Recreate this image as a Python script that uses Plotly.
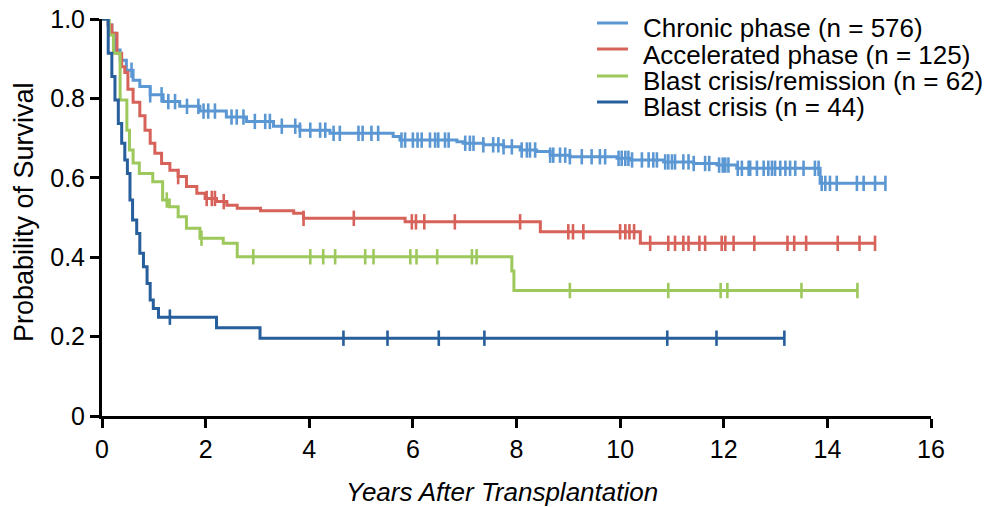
import plotly.graph_objects as go

# ---------------- data ----------------
series_names = ["Chronic phase (n = 576)", "Accelerated phase (n = 125)",
                "Blast crisis/remission (n = 62)", "Blast crisis (n = 44)"]
series_colors = ["#5B97D3", "#D6625A", "#9DC85C", "#275E9C"]

# Chronic phase: step times and survival after each step
cp_times = [0, 0.12, 0.19, 0.25, 0.35, 0.47, 0.60, 0.73, 0.93, 1.18, 1.50, 1.89, 2.40, 2.79,
            3.31, 3.82, 4.40, 5.62, 5.75, 6.85, 6.97, 7.36, 7.75, 8.07, 8.39, 8.65, 9.03,
            9.94, 10.19, 10.84, 11.42, 11.87, 12.25, 13.86]
cp_surv = [1.0, 0.985, 0.964, 0.922, 0.896, 0.871, 0.846, 0.830, 0.809, 0.792, 0.780, 0.768,
           0.753, 0.742, 0.730, 0.720, 0.712, 0.704, 0.695, 0.691, 0.687, 0.683, 0.678,
           0.670, 0.666, 0.657, 0.653, 0.649, 0.645, 0.640, 0.636, 0.632, 0.624, 0.586]
cp_end = 15.12
cp_censor = [0.57, 0.93, 1.15, 1.28, 1.41, 1.64, 1.86, 1.96, 2.05, 2.18, 2.50, 2.60, 2.73,
             2.95, 3.15, 3.24, 3.47, 3.73, 3.82, 4.02, 4.21, 4.31, 4.47, 4.59, 4.95, 5.03,
             5.20, 5.33, 5.78, 5.85, 6.00, 6.09, 6.17, 6.33, 6.43, 6.49, 6.62, 6.69, 7.01,
             7.10, 7.17, 7.36, 7.55, 7.65, 7.75, 7.91, 8.10, 8.20, 8.26, 8.36, 8.65, 8.71,
             8.84, 8.94, 9.03, 9.26, 9.45, 9.61, 9.71, 9.97, 10.03, 10.10, 10.16, 10.23,
             10.42, 10.55, 10.64, 10.71, 10.87, 10.93, 11.00, 11.06, 11.22, 11.32, 11.42,
             11.64, 11.72, 11.91, 11.98, 12.03, 12.09, 12.27, 12.35, 12.48, 12.51, 12.64,
             12.77, 12.86, 12.93, 12.99, 13.09, 13.19, 13.28, 13.38, 13.54, 13.76, 13.83,
             13.89, 13.96, 14.05, 14.18, 14.57, 14.70, 14.92, 15.12]

# Accelerated phase
ap_times = [0, 0.12, 0.19, 0.29, 0.38, 0.44, 0.50, 0.60, 0.73, 0.83, 0.93, 1.02, 1.15, 1.31,
            1.47, 1.63, 1.83, 1.99, 2.21, 2.41, 2.61, 3.06, 3.70, 3.89, 5.85, 8.46, 10.39]
ap_surv = [1.0, 0.985, 0.964, 0.914, 0.880, 0.865, 0.823, 0.790, 0.756, 0.720, 0.687, 0.662,
           0.636, 0.619, 0.603, 0.578, 0.561, 0.548, 0.540, 0.531, 0.523, 0.517, 0.511,
           0.498, 0.489, 0.464, 0.435]
ap_end = 14.92
ap_censor = [1.47, 2.02, 2.12, 2.18, 2.35, 3.89, 4.86, 5.98, 6.06, 6.22, 6.81, 8.07, 9.00,
             9.09, 9.29, 10.00, 10.10, 10.18, 10.27, 10.58, 10.93, 11.06, 11.22, 11.32,
             11.53, 11.64, 11.96, 12.03, 12.19, 12.59, 13.23, 13.36, 13.59, 14.20, 14.62,
             14.92]

# Blast crisis / remission
br_times = [0, 0.14, 0.22, 0.35, 0.48, 0.53, 0.60, 0.72, 0.98, 1.17, 1.30, 1.47, 1.63,
            1.89, 2.34, 2.61, 7.91, 7.95]
br_surv = [1.0, 0.960, 0.914, 0.796, 0.720, 0.670, 0.637, 0.611, 0.590, 0.544, 0.527,
           0.502, 0.473, 0.448, 0.435, 0.401, 0.365, 0.316]
br_end = 14.58
br_censor = [1.25, 1.92, 2.92, 4.02, 4.27, 4.50, 5.08, 5.24, 5.95, 6.07, 6.47, 7.14, 7.23,
             9.03, 10.93, 11.94, 12.07, 13.50, 14.58]

# Blast crisis
bc_times = [0, 0.12, 0.19, 0.25, 0.315, 0.38, 0.44, 0.49, 0.54, 0.59, 0.67, 0.73, 0.80,
            0.87, 0.93, 0.99, 1.09, 2.21, 3.05]
bc_surv = [1.0, 0.914, 0.855, 0.796, 0.737, 0.687, 0.645, 0.611, 0.544, 0.494, 0.460, 0.410,
           0.376, 0.334, 0.292, 0.271, 0.249, 0.222, 0.196]
bc_end = 13.17
bc_censor = [1.31, 4.66, 5.51, 6.50, 7.38, 10.91, 11.86, 13.17]

x_ticks = [0, 2, 4, 6, 8, 10, 12, 14, 16]
y_ticks = [0, 0.2, 0.4, 0.6, 0.8, 1.0]
y_ticktext = ["0", "0.2", "0.4", "0.6", "0.8", "1.0"]
x_title = "Years After Transplantation"
y_title = "Probability of Survival"

# ---------------- figure ----------------
def surv_at(times, surv, t):
    v = surv[0]
    for ti, si in zip(times, surv):
        if ti <= t:
            v = si
    return v

groups = [
    (cp_times, cp_surv, cp_end, cp_censor),
    (ap_times, ap_surv, ap_end, ap_censor),
    (br_times, br_surv, br_end, br_censor),
    (bc_times, bc_surv, bc_end, bc_censor),
]

fig = go.Figure()
for name, color, (times, surv, end, cens) in zip(series_names, series_colors, groups):
    xs = list(times) + [end]
    ys = list(surv) + [surv[-1]]
    fig.add_trace(go.Scatter(x=xs, y=ys, mode="lines", name=name, showlegend=False,
                             line=dict(color=color, width=3, shape="hv"),
                             hoverinfo="skip"))
for name, color, (times, surv, end, cens) in zip(series_names, series_colors, groups):
    fig.add_trace(go.Scatter(x=cens, y=[surv_at(times, surv, t) for t in cens],
                             mode="markers", showlegend=False,
                             marker=dict(symbol="line-ns", size=11,
                                         line=dict(color=color, width=2.6)),
                             hoverinfo="skip"))

# manual legend and titles (paper coordinates, positioned in pixels)
W, H = 986, 507
ML, MR, MT, MB = 102, 55, 19, 91
PW, PH = W - ML - MR, H - MT - MB

def px_x(p):
    return (p - ML) / PW

def px_y(p):
    return 1 - (p - MT) / PH

swatch_y = [23, 49, 76, 102]
text_y = [28, 54.5, 81, 107]
for name, color, sy, ty in zip(series_names, series_colors, swatch_y, text_y):
    fig.add_shape(type="line", xref="paper", yref="paper",
                  x0=px_x(597), x1=px_x(628), y0=px_y(sy), y1=px_y(sy),
                  line=dict(color=color, width=3))
    fig.add_annotation(xref="paper", yref="paper", x=px_x(641), y=px_y(ty),
                       xanchor="left", yanchor="middle", text=name, showarrow=False,
                       font=dict(size=26, color="black"))

fig.add_annotation(xref="paper", yref="paper", x=px_x(502), y=px_y(492),
                   xanchor="center", yanchor="middle", showarrow=False,
                   text="<i>" + x_title + "</i>", font=dict(size=26, color="black"))
fig.add_annotation(xref="paper", yref="paper", x=px_x(24), y=px_y(212),
                   xanchor="center", yanchor="middle", showarrow=False, textangle=-90,
                   text=y_title, font=dict(size=27, color="black"))

fig.update_layout(
    width=W, height=H,
    margin=dict(l=ML, r=MR, t=MT, b=MB, autoexpand=False),
    paper_bgcolor="white", plot_bgcolor="white",
    font=dict(family="Liberation Sans, Arial, sans-serif", size=24, color="black"),
    showlegend=False,
)
fig.update_xaxes(range=[0, 16], tickvals=x_ticks, showgrid=False, zeroline=False,
                 showline=True, linecolor="black", linewidth=3, automargin=False,
                 ticks="outside", ticklen=9, tickwidth=3, tickcolor="black",
                 tickfont=dict(size=25))
fig.update_yaxes(range=[0, 1.0], tickvals=y_ticks, ticktext=y_ticktext, showgrid=False,
                 zeroline=False, showline=True, linecolor="black", linewidth=3,
                 automargin=False,
                 ticks="outside", ticklen=9, tickwidth=3, tickcolor="black",
                 tickfont=dict(size=25))

fig.write_html("out.html", config={"displayModeBar": False},
               post_script="document.body.style.margin='0';document.body.style.overflow='hidden';")
